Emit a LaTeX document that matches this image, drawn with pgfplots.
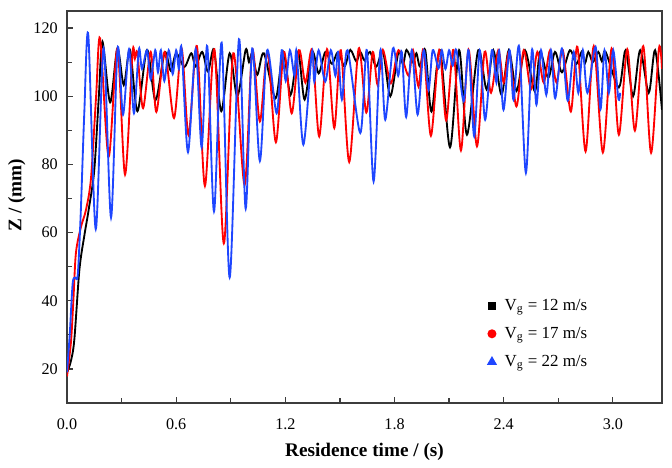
\documentclass[border=0pt]{standalone}
\usepackage{fontspec}
\setmainfont{Liberation Serif}
\usepackage{pgfplots}
\pgfplotsset{compat=1.18}
\usetikzlibrary{calc}
\definecolor{myblue}{RGB}{30,70,255}
\definecolor{myred}{RGB}{255,0,0}
\definecolor{frame}{RGB}{60,60,60}
\begin{document}
\begin{tikzpicture}
\begin{axis}[name=ax, at={(0,0)}, anchor=south west,
  scale only axis, width=386.75pt, height=254.8pt,
  xmin=0, xmax=3.27, ymin=10, ymax=125,
  xtick={0,0.6,1.2,1.8,2.4,3.0}, minor xtick={0.3,0.9,1.5,2.1,2.7},
  ytick={20,40,60,80,100,120}, minor ytick={30,50,70,90,110},
  tick align=inside, xtick pos=left, ytick pos=left,
  major tick length=4pt, minor tick length=3pt,
  every tick/.style={line width=0.8pt, frame},
  axis line style={line width=1pt, frame},
  /pgf/number format/assume math mode=true,
  ticklabel style={font=\fontsize{10.5}{12}\selectfont},
  xticklabel style={/pgf/number format/.cd,fixed,fixed zerofill,precision=1, /tikz/yshift=-6.5pt},
  yticklabel style={xshift=-2.5pt},
  label style={font=\fontsize{12.5}{14}\selectfont\bfseries},
  xlabel={Residence time / (s)}, ylabel={Z / (mm)},
  xlabel style={at={(axis description cs:0.5,0)}, anchor=center, yshift=-32pt},
  ylabel style={at={(axis description cs:-0.0845,0.53)}, anchor=center},
  legend style={draw=none, fill=none, at={(0.70,0.282)}, anchor=north west,
    font=\fontsize{11}{13}\selectfont, row sep=5.5pt},
  legend cell align=left,
  every axis plot/.append style={line width=1.2pt, smooth, tension=0.5},
]
\addplot[black, legend image code/.code={\draw[mark=square*, mark size=2pt, black] plot coordinates {(0.15cm,0cm)}; \path (0.35cm,0cm);}] coordinates {
(0.000,19) (0.02,22) (0.04,28.4) (0.068,49) (0.095,59) (0.12,67) (0.15,78.4) (0.175,100) (0.195,116) (0.237,98.2) (0.277,114) (0.312,103.3) (0.346,113.6) (0.387,95.6) (0.44,113.6) (0.486,98.8) (0.537,112.8) (0.57,107.5) (0.60,112.6) (0.645,108.6) (0.683,112.6) (0.707,108.7) (0.743,113) (0.775,107.2) (0.808,113.6) (0.848,95.6) (0.894,112.6) (0.936,100) (0.982,113.6) (1.00,110) (1.018,112.6) (1.046,106.3) (1.082,112.6) (1.146,99.4) (1.188,113) (1.229,100.4) (1.27,113) (1.306,99) (1.348,113) (1.383,106.7) (1.42,113) (1.456,109.5) (1.49,113) (1.525,108.7) (1.557,113.6) (1.59,110.2) (1.612,113) (1.635,110.5) (1.665,113) (1.70,108.7) (1.737,113) (1.777,100) (1.822,113) (1.847,109.3) (1.866,113.6) (1.90,110) (1.92,112.6) (1.94,108.7) (1.969,113.5) (2.003,95.5) (2.05,113.5) (2.105,85) (2.155,113.5) (2.198,88.7) (2.26,113.5) (2.306,102) (2.343,113.5) (2.388,100.4) (2.428,113.5) (2.471,101.6) (2.517,113.5) (2.571,101.4) (2.60,113) (2.645,105.4) (2.682,113) (2.72,107) (2.764,113.5) (2.80,109.5) (2.828,113) (2.847,109.7) (2.865,113) (2.89,110) (2.92,113) (2.94,110.2) (2.96,113) (3.033,102.6) (3.07,113.5) (3.111,100) (3.15,113.5) (3.197,101) (3.232,113.5) (3.27,96)
};
\addlegendentry{V\textsubscript{g} = 12 m/s}
\addplot[myred, legend image code/.code={\draw[mark=*, mark size=2.3pt, myred] plot coordinates {(0.15cm,0cm)}; \path (0.35cm,0cm);}] coordinates {
(0.000,17.8) (0.022,28) (0.035,40) (0.049,54) (0.077,61.7) (0.104,66.6) (0.132,76) (0.16,100) (0.182,117) (0.229,82.3) (0.277,114) (0.319,77) (0.36,112.6) (0.373,111) (0.387,112.6) (0.418,96.5) (0.46,113) (0.491,95.4) (0.537,113) (0.588,93.6) (0.63,114) (0.668,88.6) (0.714,114.7) (0.758,73.7) (0.81,113.8) (0.862,56.8) (0.914,112.6) (0.976,74) (1.018,113.5) (1.06,92.6) (1.102,113) (1.148,86.5) (1.192,113) (1.235,95) (1.275,113.5) (1.31,104) (1.348,113.5) (1.386,88.2) (1.429,113.8) (1.469,90.7) (1.505,113.5) (1.551,80.7) (1.603,114) (1.645,95.2) (1.68,113) (1.707,103.3) (1.736,113.6) (1.78,103.8) (1.822,113.5) (1.877,106) (1.901,113.6) (1.932,102.8) (1.96,113.6) (2.0,88.4) (2.046,113.6) (2.084,92.9) (2.124,113.6) (2.165,84.1) (2.207,113.6) (2.253,85.3) (2.295,113) (2.33,101) (2.37,113.5) (2.40,104) (2.43,113) (2.47,97) (2.51,113.5) (2.55,102) (2.585,113) (2.62,104) (2.655,113.5) (2.69,104) (2.725,113.5) (2.769,95.5) (2.805,114.5) (2.85,83.8) (2.895,114.7) (2.945,83.5) (2.993,114) (3.033,88.7) (3.079,113.8) (3.121,89.9) (3.167,114.7) (3.21,83.4) (3.253,114) (3.27,108)
};
\addlegendentry{V\textsubscript{g} = 17 m/s}
\addplot[myblue, legend image code/.code={\draw[mark=triangle*, mark size=2.6pt, myblue] plot coordinates {(0.15cm,0cm)}; \path (0.35cm,0cm);}] coordinates {
(0.000,19) (0.015,30) (0.031,45) (0.045,46.8) (0.059,47.5) (0.075,65) (0.095,95) (0.117,118) (0.158,61) (0.201,114) (0.242,64.4) (0.278,114) (0.308,94.6) (0.341,113.8) (0.368,95) (0.395,113.8) (0.412,108) (0.44,113.5) (0.46,105) (0.485,113.5) (0.50,107) (0.516,113.5) (0.535,104.5) (0.559,113.5) (0.581,106.5) (0.60,113.5) (0.615,108) (0.63,114) (0.665,83.6) (0.707,113.8) (0.74,85) (0.771,114.7) (0.808,66.2) (0.85,115.7) (0.894,46.8) (0.945,116.7) (0.982,67) (1.018,114) (1.06,81) (1.10,113.5) (1.152,95) (1.18,113.5) (1.202,104.5) (1.225,113.5) (1.25,106) (1.262,113) (1.299,85.8) (1.346,113) (1.359,104.3) (1.383,113.5) (1.419,104.3) (1.45,113.5) (1.475,106) (1.49,113) (1.511,99) (1.542,113.5) (1.612,89.2) (1.648,113.5) (1.685,75) (1.722,113.5) (1.749,93.1) (1.791,114) (1.82,106) (1.84,113) (1.864,93.9) (1.895,113.5) (1.927,94.6) (1.96,113.5) (1.987,101.9) (2.01,113.5) (2.042,108.2) (2.06,113.5) (2.08,108) (2.10,113.5) (2.12,109) (2.14,113.5) (2.18,98.5) (2.207,113.5) (2.238,88.2) (2.268,113.5) (2.298,93.1) (2.335,113.5) (2.36,104) (2.375,113.5) (2.399,96) (2.432,113.5) (2.454,98.9) (2.485,114.5) (2.522,77.5) (2.555,113.5) (2.58,97.5) (2.605,113.5) (2.634,100.4) (2.66,113.5) (2.683,99.4) (2.72,114) (2.752,98.7) (2.785,113) (2.81,101) (2.835,113.5) (2.86,101) (2.905,114.5) (2.932,96.2) (2.954,113.5) (2.978,101) (3.002,113.5) (3.03,99.4) (3.04,101)
};
\addlegendentry{V\textsubscript{g} = 22 m/s}
\end{axis}
\pgfresetboundingbox
\path ($(ax.south west)+(-43.55pt,-41.6pt)$) rectangle ($(ax.north east)+(6.5pt,7.15pt)$);
\end{tikzpicture}
\end{document}
